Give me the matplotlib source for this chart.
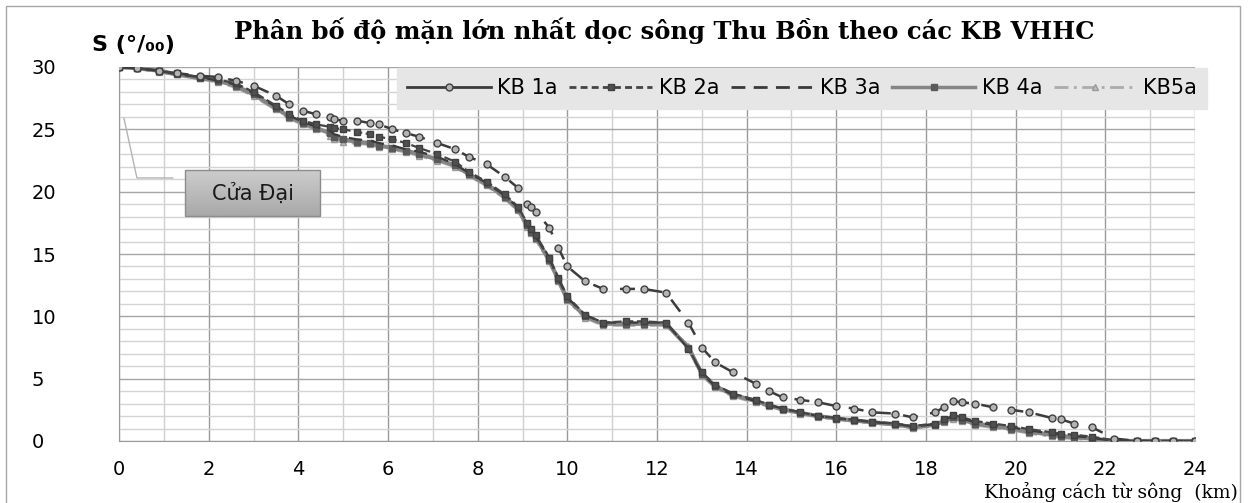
import numpy as np
import matplotlib
matplotlib.use("Agg")
import matplotlib.pyplot as plt
from matplotlib.lines import Line2D
from matplotlib.patches import Rectangle

# khoảng cách dọc sông (km) và độ mặn lớn nhất (‰) theo từng kịch bản
km = [0, 0.4, 0.9, 1.3, 1.8, 2.2, 2.6, 3.0, 3.5, 3.8,
      4.1, 4.4, 4.7, 4.8, 5.0, 5.3, 5.6, 5.8, 6.1, 6.4,
      6.7, 7.1, 7.5, 7.8, 8.2, 8.6, 8.9, 9.1, 9.2, 9.3,
      9.6, 9.8, 10.0, 10.4, 10.8, 11.3, 11.7, 12.2, 12.7, 13.0,
      13.3, 13.7, 14.2, 14.5, 14.8, 15.2, 15.6, 16.0, 16.4, 16.8,
      17.3, 17.7, 18.2, 18.4, 18.6, 18.8, 19.1, 19.5, 19.9, 20.3,
      20.8, 21.0, 21.3, 21.7, 22.2, 22.7, 23.1, 23.5, 24.0]

kb1a = [30.0, 29.9, 29.7, 29.5, 29.3, 29.2, 28.9, 28.5, 27.7, 27.0,
        26.5, 26.2, 26.0, 25.8, 25.7, 25.7, 25.5, 25.4, 25.0, 24.7,
        24.4, 23.9, 23.4, 22.8, 22.2, 21.2, 20.3, 19.0, 18.8, 18.4,
        17.1, 15.5, 14.0, 12.8, 12.2, 12.2, 12.2, 11.9, 9.5, 7.5,
        6.3, 5.5, 4.6, 4.0, 3.5, 3.3, 3.1, 2.8, 2.6, 2.3,
        2.2, 1.9, 2.3, 2.7, 3.2, 3.1, 3.0, 2.7, 2.5, 2.3,
        1.85, 1.75, 1.4, 1.1, 0.2, 0, 0, 0, 0]

kb2a = [30.0, 29.9, 29.7, 29.5, 29.2, 29.0, 28.7, 28.0, 26.9, 26.2,
        25.7, 25.4, 25.2, 25.1, 25.0, 24.8, 24.6, 24.4, 24.2, 23.9,
        23.5, 23.0, 22.4, 21.6, 20.8, 19.8, 18.8, 17.5, 17.0, 16.5,
        14.7, 13.1, 11.6, 10.1, 9.5, 9.6, 9.6, 9.5, 7.4, 5.5,
        4.5, 3.8, 3.3, 2.9, 2.6, 2.3, 2.0, 1.85, 1.7, 1.55,
        1.4, 1.2, 1.4, 1.75, 2.1, 1.9, 1.6, 1.4, 1.2, 0.95,
        0.7, 0.6, 0.5, 0.35, 0.05, 0, 0, 0, 0]

kb3a = [30.0, 29.9, 29.7, 29.4, 29.2, 28.9, 28.6, 27.9, 26.8, 26.1,
        25.6, 25.2, 24.9, 24.6, 24.4, 24.2, 24.1, 23.9, 23.7, 23.4,
        23.2, 22.8, 22.2, 21.5, 20.7, 19.7, 18.7, 17.4, 16.9, 16.4,
        14.6, 13.0, 11.5, 10.1, 9.5, 9.5, 9.5, 9.5, 7.4, 5.4,
        4.4, 3.7, 3.2, 2.9, 2.6, 2.3, 2.0, 1.8, 1.7, 1.5,
        1.4, 1.15, 1.35, 1.7, 2.0, 1.8, 1.5, 1.3, 1.1, 0.85,
        0.6, 0.5, 0.4, 0.25, 0.0, 0, 0, 0, 0]

kb4a = [30.0, 29.9, 29.7, 29.4, 29.1, 28.9, 28.5, 27.8, 26.7, 26.0,
        25.5, 25.1, 24.7, 24.4, 24.2, 24.0, 23.9, 23.7, 23.5, 23.3,
        23.0, 22.6, 22.1, 21.4, 20.6, 19.6, 18.6, 17.3, 16.8, 16.3,
        14.5, 12.9, 11.4, 10.0, 9.4, 9.4, 9.4, 9.4, 7.5, 5.4,
        4.4, 3.7, 3.2, 2.85, 2.55, 2.25, 2.0, 1.8, 1.65, 1.5,
        1.35, 1.1, 1.3, 1.6, 1.9, 1.7, 1.4, 1.2, 1.0, 0.75,
        0.5, 0.4, 0.3, 0.2, 0.0, 0, 0, 0, 0]

kb5a = [30.0, 29.9, 29.6, 29.4, 29.1, 28.8, 28.4, 27.7, 26.6, 25.9,
        25.4, 25.0, 24.5, 24.2, 24.0, 23.9, 23.8, 23.6, 23.4, 23.2,
        22.9, 22.5, 22.0, 21.3, 20.5, 19.5, 18.5, 17.2, 16.7, 16.2,
        14.4, 12.8, 11.3, 9.9, 9.3, 9.3, 9.3, 9.3, 7.6, 5.3,
        4.3, 3.6, 3.1, 2.8, 2.5, 2.2, 1.95, 1.75, 1.6, 1.45,
        1.3, 1.05, 1.25, 1.5, 1.8, 1.6, 1.3, 1.1, 0.9, 0.65,
        0.4, 0.3, 0.2, 0.15, 0.0, 0, 0, 0, 0]

x_ticks = [0, 2, 4, 6, 8, 10, 12, 14, 16, 18, 20, 22, 24]
y_ticks = [0, 5, 10, 15, 20, 25, 30]

W, H = 1255, 503
fig = plt.figure(figsize=(W / 100, H / 100), dpi=100)
fig.patch.set_facecolor("white")

# khung viền ngoài của biểu đồ
fig.patches.append(Rectangle((6 / W, -0.02), (1240 - 6) / W, 1 - 6 / H + 0.02,
                             transform=fig.transFigure, fill=False,
                             edgecolor="#a6a6a6", lw=1.0))

x0, x1, y0, y1 = 119, 1195, 441, 67
ax = fig.add_axes([x0 / W, 1 - y0 / H, (x1 - x0) / W, (y0 - y1) / H])

# các kịch bản
ax.plot(km, kb5a, color="#ababab", lw=2.5, ls="-.", marker="^", ms=4,
        mfc="#bdbdbd", mec="#9a9a9a", zorder=3)
ax.plot(km, kb4a, color="#858585", lw=3.0, ls="-", marker="s", ms=4,
        mfc="#5a5a5a", mec="#5a5a5a", zorder=4)
ax.plot(km, kb3a, color="#3a3a3a", lw=1.6, ls=(0, (6, 4)), zorder=5)
ax.plot(km, kb2a, color="#444444", lw=1.6, ls="--", marker="s", ms=4,
        mfc="#505050", mec="#404040", zorder=6)
ax.plot(km, kb1a, color="#3c3c3c", lw=1.8, ls=(0, (6, 5)), marker="o", ms=5,
        mfc="#b4b4b4", mec="#404040", mew=1.0, zorder=7)

# hộp ghi chú cửa sông
bx0, bx1 = (185 - x0) / 44.83, (320 - x0) / 44.83
by0, by1 = (441 - 216) / 12.47, (441 - 170) / 12.47
grad = np.linspace(0.80, 0.66, 50).reshape(-1, 1)
ax.imshow(grad, cmap="gray", vmin=0, vmax=1, aspect="auto",
          extent=[bx0, bx1, by0, by1], zorder=8)
ax.add_patch(Rectangle((bx0, by0), bx1 - bx0, by1 - by0, fill=False,
                       edgecolor="#8c8c8c", lw=1.0, zorder=9))
ax.text((bx0 + bx1) / 2, (by0 + by1) / 2, "Cửa Đại", ha="center",
        va="center", fontsize=15, color="#1a1a1a", zorder=10)
ax.plot([0.11, 0.4, 1.2], [25.9, 21.1, 21.1], color="#b4b4b4", lw=1.0,
        clip_on=False, zorder=8)

ax.set_xlim(0, 24)
ax.set_ylim(0, 30)

# lưới: đường chính đậm hơn, đường phụ nhạt
ax.set_xticks(x_ticks)
ax.set_xticks(np.arange(0, 25, 1), minor=True)
ax.set_yticks(y_ticks)
ax.set_yticks(np.arange(0, 31, 1), minor=True)
ax.grid(which="major", axis="x", color="#9a9a9a", lw=1.0)
ax.grid(which="minor", axis="x", color="#d0d0d0", lw=1.0)
ax.grid(which="major", axis="y", color="#a6a6a6", lw=1.0)
ax.grid(which="minor", axis="y", color="#d4d4d4", lw=1.0)
ax.set_axisbelow(True)
for s in ["top", "right"]:
    ax.spines[s].set_visible(False)
for s in ["left", "bottom"]:
    ax.spines[s].set_color("#9a9a9a")
ax.tick_params(which="both", length=0)
ax.xaxis.set_tick_params(which="major", labelsize=14, pad=14)
ax.yaxis.set_tick_params(which="major", labelsize=14, pad=63)
for lab in ax.get_yticklabels():
    lab.set_horizontalalignment("left")

# chú giải
handles = [
    Line2D([], [], color="#3c3c3c", lw=2, marker="o", ms=5, mfc="#b4b4b4",
           mec="#404040"),
    Line2D([], [], color="#444444", lw=2, ls=(0, (2.5, 1.5)), marker="s",
           ms=5, mfc="#505050", mec="#404040"),
    Line2D([], [], color="#3a3a3a", lw=2, ls=(0, (5, 3))),
    Line2D([], [], color="#858585", lw=2.5, marker="s", ms=4, mfc="#5a5a5a",
           mec="#5a5a5a"),
    Line2D([], [], color="#ababab", lw=2, ls=(0, (5, 2, 1, 2)), marker="^",
           ms=4, mfc="#bdbdbd", mec="#9a9a9a"),
]
labels = ["KB 1a", "KB 2a", "KB 3a", "KB 4a", "KB5a"]
leg = fig.legend(handles, labels, loc="upper left",
                 bbox_to_anchor=(397 / W, 1 - 68 / H), ncol=5, fontsize=15,
                 frameon=True, fancybox=False, facecolor="#e6e6e6",
                 edgecolor="#e6e6e6", framealpha=1, borderaxespad=0,
                 borderpad=0.5, handlelength=4.0, handletextpad=0.3,
                 columnspacing=0.55)

fig.text(664 / W, 1 - 31 / H,
         "Phân bố độ mặn lớn nhất dọc sông Thu Bồn theo các KB VHHC",
         ha="center", va="center", fontsize=17.5, fontweight="bold",
         family="DejaVu Serif")
fig.text(92 / W, 1 - 45 / H, "S (°/₀₀)", ha="left", va="center",
         fontsize=16, fontweight="bold")
fig.text(1238 / W, 1 - 492 / H, "Khoảng cách từ sông  (km)", ha="right",
         va="center", fontsize=13.5, family="DejaVu Serif")

fig.savefig("out.png", dpi=100)
